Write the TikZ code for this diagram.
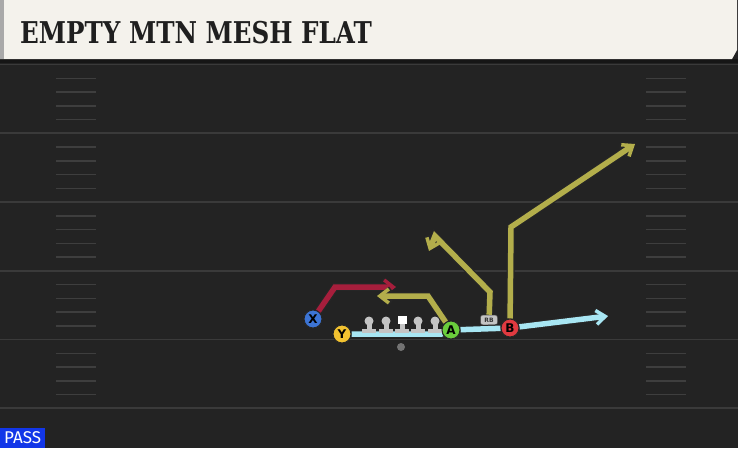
\documentclass[tikz,border=0pt]{standalone}
\usepackage{fontspec}
\setmainfont{DejaVu Serif}
\setsansfont{DejaVu Sans}
\newfontfamily\tagfont{Fira Sans}
\usetikzlibrary{arrows.meta, positioning}

\definecolor{fieldbg}{HTML}{232323}
\definecolor{bandbg}{HTML}{161616}
\definecolor{headerbg}{HTML}{F4F2EC}
\definecolor{headeredge}{HTML}{A9A9A9}
\definecolor{yardline}{HTML}{3A3A3A}
\definecolor{hashline}{HTML}{3E3E3E}
\definecolor{routered}{HTML}{A61E3C}
\definecolor{routeolive}{HTML}{B3AE4B}
\definecolor{routeblue}{HTML}{A8E6F3}
\definecolor{xblue}{HTML}{3C74D4}
\definecolor{yyellow}{HTML}{F2C230}
\definecolor{agreen}{HTML}{6ACD3C}
\definecolor{bred}{HTML}{E03A40}
\definecolor{linegray}{HTML}{C4C4C4}
\definecolor{passblue}{HTML}{1236E8}

\begin{document}
\begin{tikzpicture}[x=1pt, y=-1pt]
  % Set the styles
  \tikzset{
    player/.style={circle, draw=black!85, line width=1pt, minimum size=18pt,
      inner sep=0pt, font=\sffamily\bfseries\fontsize{12}{12}\selectfont},
    rbtag/.style={rounded corners=2.5pt, fill=linegray, draw=black!70, line width=0.5pt,
      minimum width=17pt, minimum height=10pt, inner sep=0pt,
      font=\sffamily\bfseries\fontsize{6}{6}\selectfont, text=black!80},
    route/.style={draw=#1, line width=5.5pt,
      -{Straight Barb[length=9pt, width=14pt, line width=3.5pt]},
      preaction={draw=black!85, line width=8pt,
        -{Straight Barb[length=9pt, width=14pt, line width=6pt]}}},
    lineman/.pic={
      \fill[linegray] (0,-1) circle (4.5);
      \fill[linegray] (-2.5,-1) rectangle (2.5,8);
      \fill[linegray] (-7,7) rectangle (7,11);
    },
    centerman/.pic={
      \fill[white] (-4.5,-6) rectangle (4.5,2);
      \fill[linegray] (-2.5,2) rectangle (2.5,8);
      \fill[linegray] (-7,7) rectangle (7,11);
    }
  }
  \useasboundingbox (0,0) rectangle (738,448);

  % Draw the field
  \fill[fieldbg] (0,0) rectangle (738,448);
  \fill[bandbg] (0,59) rectangle (738,63);
  \draw[yardline, line width=1pt] (0,64.5) -- (738,64.5);
  \foreach \j in {1,...,5}{
    \draw[yardline, line width=1.8pt] (0,64.5+68.75*\j) -- (738,64.5+68.75*\j);
  }
  \foreach \j in {0,...,4}{
    \foreach \i in {1,...,4}{
      \draw[hashline, line width=1.5pt] (56,64.5+68.75*\j+13.75*\i) -- (96,64.5+68.75*\j+13.75*\i);
      \draw[hashline, line width=1.5pt] (646,64.5+68.75*\j+13.75*\i) -- (686,64.5+68.75*\j+13.75*\i);
    }
  }

  % Draw the header
  \fill[headerbg] (0,0) -- (737,0) -- (737,50) -- (732,59) -- (0,59) -- cycle;
  \fill[headeredge] (0,0) rectangle (4,59);
  \node[anchor=west, inner sep=0pt, xscale=0.82, text=black!88,
    font=\bfseries\fontsize{30}{30}\selectfont] (title) at (20,33) {EMPTY MTN MESH FLAT};

  % Draw the players
  \node[player, fill=xblue] (X) at (313,319) {X};
  \node[player, fill=yyellow] (Y) at (342,334) {Y};
  \node[player, fill=agreen] (A) at (451,330) {A};
  \node[player, fill=bred] (B) at (510,328) {B};
  \node[rbtag] (RB) at (489,320) {RB};
  \node[circle, fill=black!55, minimum size=8pt, inner sep=0pt] (ball) at (401,347) {};

  % Define the route points
  \coordinate (xBend) at (335,287);
  \coordinate (xEnd) at (396,287);
  \coordinate (aBend) at (428,296);
  \coordinate (aEnd) at (377,296);
  \coordinate (rbBend) at (490,292);
  \coordinate (rbTop) at (435,236);
  \coordinate (rbEnd) at (429,251);
  \coordinate (bBend) at (511,227);
  \coordinate (bEnd) at (635,144);
  \coordinate (yEnd) at (608,316);

  % Draw the routes
  \draw[route=routered] (X) -- (xBend) -- (xEnd);
  \draw[route=routeolive] (A) -- (aBend) -- (aEnd);
  \draw[route=routeolive] (RB) -- (rbBend) -- (rbTop) -- (rbEnd);
  \draw[route=routeolive] (B) -- (bBend) -- (bEnd);
  \draw[route=routeblue] (Y.east) -- (A.west |- Y.east) -- (A) -- (B) -- (yEnd);

  % Draw the line
  \foreach \x in {369,386,418,435}{
    \pic at (\x,322) {lineman};
  }
  \pic at (402,322) {centerman};

  % Draw the players on top
  \node[player, fill=xblue] at (X) {X};
  \node[player, fill=yyellow] at (Y) {Y};
  \node[player, fill=agreen] at (A) {A};
  \node[player, fill=bred] at (B) {B};

  % Draw the play type
  \node[fill=passblue, text=white, anchor=south west, minimum width=45pt,
    minimum height=20pt, inner sep=0pt, font=\tagfont\fontsize{17}{17}\selectfont] (playtype) at (0,448) {PASS};
\end{tikzpicture}
\end{document}
